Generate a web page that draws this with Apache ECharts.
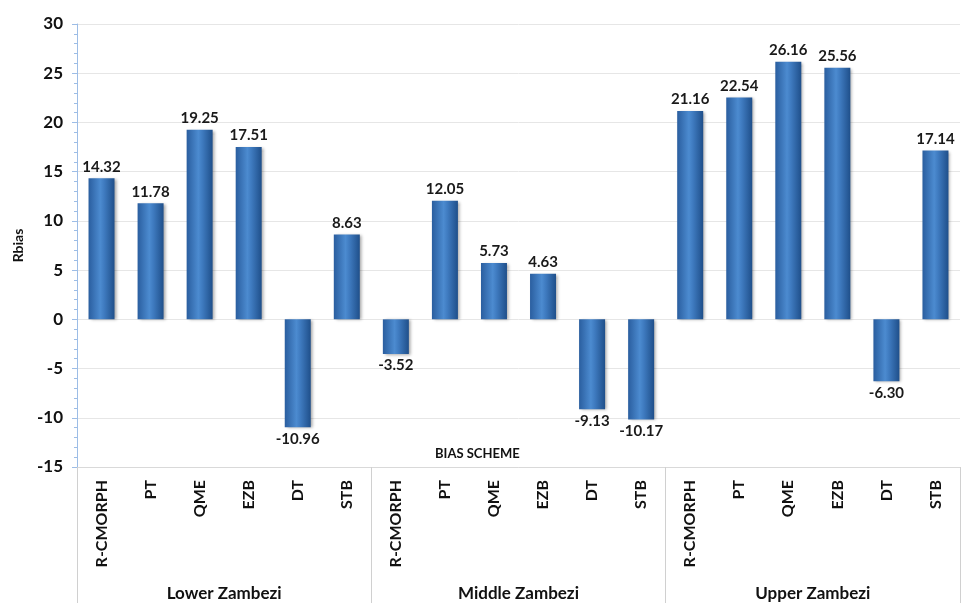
<!DOCTYPE html>
<html>
<head>
<meta charset="utf-8">
<script src="https://cdn.jsdelivr.net/npm/echarts@6/dist/echarts.min.js"></script>
<style>
  html, body { margin: 0; padding: 0; background: #fff; }
  #chart { width: 962px; height: 603px; }
</style>
</head>
<body>
<div id="chart"></div>
<script>
const schemes = ['R-CMORPH', 'PT', 'QME', 'EZB', 'DT', 'STB'];
const regions = ['Lower Zambezi', 'Middle Zambezi', 'Upper Zambezi'];

const lowerZambezi = [14.32, 11.78, 19.25, 17.51, -10.96, 8.63];
const middleZambezi = [-3.52, 12.05, 5.73, 4.63, -9.13, -10.17];
const upperZambezi = [21.16, 22.54, 26.16, 25.56, -6.30, 17.14];

const yTicks = { min: -15, max: 30, interval: 5 };

const categories = [].concat(schemes, schemes, schemes);
const values = [].concat(lowerZambezi, middleZambezi, upperZambezi);

const font = 'Lato, "Open Sans", sans-serif';

const barColor = new echarts.graphic.LinearGradient(0, 0, 1, 0, [
  { offset: 0, color: '#2a5e9f' },
  { offset: 0.45, color: '#4c8bd0' },
  { offset: 0.6, color: '#3f7bc0' },
  { offset: 1, color: '#1f4f8a' }
]);

const chart = echarts.init(document.getElementById('chart'));

chart.setOption({
  animation: false,
  textStyle: { fontFamily: font },
  title: {
    text: 'BIAS SCHEME',
    left: 430,
    top: 442,
    textStyle: { fontSize: 13, fontWeight: 'bold', color: '#111', fontFamily: font }
  },
  grid: { left: 77, right: 2, top: 24, bottom: 136 },
  xAxis: [
    {
      type: 'category',
      data: categories,
      axisLine: { onZero: false, lineStyle: { color: '#d9d9d9' } },
      axisTick: { show: false },
      axisLabel: {
        interval: 0,
        rotate: 90,
        margin: 13,
        fontSize: 16,
        fontWeight: 'bold',
        color: '#111',
        fontFamily: font
      }
    },
    {
      type: 'category',
      data: regions,
      position: 'bottom',
      axisLine: { show: false, onZero: false },
      axisTick: { show: true, length: 136, interval: 0, lineStyle: { color: '#d0d0d0' } },
      axisLabel: {
        interval: 0,
        margin: 118,
        fontSize: 17,
        fontWeight: 'bold',
        color: '#111',
        fontFamily: font
      }
    }
  ],
  yAxis: {
    type: 'value',
    min: yTicks.min,
    max: yTicks.max,
    interval: yTicks.interval,
    name: 'Rbias',
    nameLocation: 'middle',
    nameGap: 52,
    nameTextStyle: { fontSize: 14, fontWeight: 'bold', color: '#111', fontFamily: font },
    axisLine: { show: true, lineStyle: { color: '#9dbde6' } },
    axisTick: { show: true, length: 5, lineStyle: { color: '#9dbde6' } },
    minorTick: { show: true, splitNumber: 5, length: 3, lineStyle: { color: '#9dbde6' } },
    splitLine: { show: true, lineStyle: { color: '#e6e6e6' } },
    axisLabel: { fontSize: 17, fontWeight: 'bold', color: '#111', margin: 14, fontFamily: font }
  },
  series: [
    {
      type: 'bar',
      xAxisIndex: 0,
      barWidth: 26,
      data: values.map(v => ({
        value: v,
        label: { position: v < 0 ? 'bottom' : 'top' }
      })),
      itemStyle: {
        color: barColor,
        shadowColor: 'rgba(0,0,0,0.35)',
        shadowBlur: 3,
        shadowOffsetX: 2,
        shadowOffsetY: 1
      },
      label: {
        show: true,
        distance: 4,
        fontSize: 15,
        fontWeight: 'bold',
        color: '#1a1a1a',
        fontFamily: font,
        formatter: p => p.value.toFixed(2)
      }
    }
  ]
});
</script>
</body>
</html>
